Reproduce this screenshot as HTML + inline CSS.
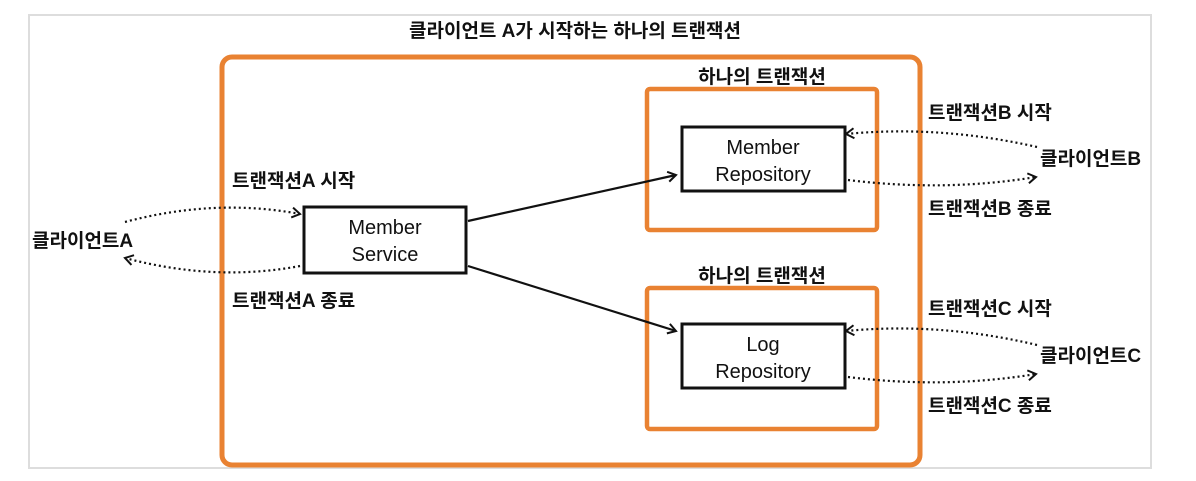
<!DOCTYPE html>
<html><head><meta charset="utf-8"><style>
body{margin:0;width:1196px;height:476px;background:#fff;overflow:hidden}
svg text{font-family:"Liberation Sans","Noto Sans CJK KR",sans-serif;font-weight:bold;fill:#111}
.n{font-weight:normal}
</style></head><body>
<svg width="1196" height="476" viewBox="0 0 1196 476" xmlns="http://www.w3.org/2000/svg">
<defs><marker id="a" markerWidth="12" markerHeight="12" refX="9" refY="6" orient="auto" markerUnits="userSpaceOnUse"><path d="M1,1 L9,6 L1,11" fill="none" stroke="#111" stroke-width="2"/></marker></defs>
<rect x="29" y="15" width="1122" height="453" fill="none" stroke="#ddd" stroke-width="2"/>
<text x="575" y="37" font-size="19" text-anchor="middle">클라이언트 A가 시작하는 하나의 트랜잭션</text>
<rect x="222" y="57" width="698" height="408" rx="10" fill="none" stroke="#e98232" stroke-width="5"/>
<rect x="647" y="89" width="230" height="141" rx="3" fill="none" stroke="#e98232" stroke-width="4.5"/>
<rect x="647" y="288" width="230" height="141" rx="3" fill="none" stroke="#e98232" stroke-width="4.5"/>
<text x="762" y="83" font-size="19" text-anchor="middle">하나의 트랜잭션</text>
<text x="762" y="282" font-size="19" text-anchor="middle">하나의 트랜잭션</text>
<rect x="304" y="207" width="162" height="66" fill="#fff" stroke="#111" stroke-width="3"/>
<text class="n" x="385" y="234" font-size="20" text-anchor="middle">Member</text>
<text class="n" x="385" y="261" font-size="20" text-anchor="middle">Service</text>
<rect x="682" y="127" width="163" height="64" fill="#fff" stroke="#111" stroke-width="3"/>
<text class="n" x="763" y="154" font-size="20" text-anchor="middle">Member</text>
<text class="n" x="763" y="181" font-size="20" text-anchor="middle">Repository</text>
<rect x="682" y="324" width="163" height="64" fill="#fff" stroke="#111" stroke-width="3"/>
<text class="n" x="763" y="351" font-size="20" text-anchor="middle">Log</text>
<text class="n" x="763" y="378" font-size="20" text-anchor="middle">Repository</text>
<line x1="468" y1="221" x2="676" y2="175" stroke="#111" stroke-width="2.2" marker-end="url(#a)"/>
<line x1="468" y1="266" x2="676" y2="331" stroke="#111" stroke-width="2.2" marker-end="url(#a)"/>
<g fill="none" stroke="#111" stroke-width="2.2" stroke-dasharray="2 3">
<path d="M125,222 Q215,198 300,214" marker-end="url(#a)"/>
<path d="M300,266 Q215,282 125,258" marker-end="url(#a)"/>
<path d="M1037,147 Q940,125 846,134" marker-end="url(#a)"/>
<path d="M848,180 Q945,192 1036,177" marker-end="url(#a)"/>
<path d="M1037,345 Q940,322 846,331" marker-end="url(#a)"/>
<path d="M848,377 Q945,389 1036,374" marker-end="url(#a)"/>
</g>
<text x="32" y="247" font-size="19">클라이언트A</text>
<text x="232" y="187" font-size="19">트랜잭션A 시작</text>
<text x="232" y="307" font-size="19">트랜잭션A 종료</text>
<text x="928" y="119" font-size="19">트랜잭션B 시작</text>
<text x="1040" y="165" font-size="19">클라이언트B</text>
<text x="928" y="215" font-size="19">트랜잭션B 종료</text>
<text x="928" y="315" font-size="19">트랜잭션C 시작</text>
<text x="1040" y="362" font-size="19">클라이언트C</text>
<text x="928" y="412" font-size="19">트랜잭션C 종료</text>
</svg>
</body></html>
